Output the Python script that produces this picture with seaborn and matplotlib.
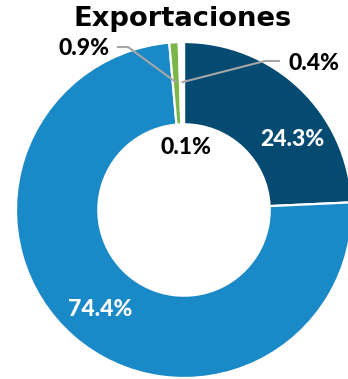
import numpy as np
import matplotlib
matplotlib.use("Agg")
import matplotlib.pyplot as plt
import seaborn as sns

sns.set_theme(style="white")
plt.rcParams['font.family'] = ['DejaVu Sans']

# ---- data ----
title = "Exportaciones"
categories = ["A", "B", "C", "D", "E"]
values = [24.3, 74.4, 0.9, 0.4, 0.1]
labels = ["24.3%", "74.4%", "0.9%", "0.4%", "0.1%"]
colors = ["#044a71", "#1a89c7", "#7ab648", "#ffffff", "#ffffff"]

W, H, DPI = 348, 379, 100
fig = plt.figure(figsize=(W / DPI, H / DPI), dpi=DPI)
fig.patch.set_facecolor("white")
ax = fig.add_axes([0, 0, 1, 1])

cx, cy, R = 184, 210, 168  # pixel layout of donut
wedges, _ = ax.pie(values, colors=colors, startangle=90, counterclock=False,
                   radius=1.0, wedgeprops=dict(width=0.49, edgecolor="white", linewidth=1.6))
ax.set_xlim(-cx / R, (W - cx) / R)
ax.set_ylim(-(H - cy) / R, cy / R)
ax.set_aspect("equal", adjustable="box")
ax.axis("off")

def mid_point(w, r=0.76):
    a = np.deg2rad((w.theta1 + w.theta2) / 2)
    return r * np.cos(a), r * np.sin(a)

lab_font = dict(family=["Lato", "DejaVu Sans"], fontweight="black", fontsize=16.5)
# in-slice labels
ax.text(0.643, 0.417, labels[0], color="white", ha="center", va="center", **lab_font)
ax.text(-0.50, -0.595, labels[1], color="white", ha="center", va="center", **lab_font)
ax.text(0.012, 0.375, labels[4], color="black", ha="center", va="center", **lab_font)

# outside labels with leader lines
lc = "#a6a6a6"
px, py = mid_point(wedges[2])
ax.plot([px, -0.333, -0.399], [py, 0.970, 0.970], color=lc, lw=1.5, solid_capstyle="butt")
ax.text(-0.595, 0.964, labels[2], color="black", ha="center", va="center", **lab_font)

px, py = mid_point(wedges[3])
ax.plot([px, 0.482, 0.571], [py, 0.887, 0.887], color=lc, lw=1.5, solid_capstyle="butt")
ax.text(0.774, 0.875, labels[3], color="black", ha="center", va="center", **lab_font)

fig.text(183 / W, 1 - 19 / H, title, ha="center", va="center",
         fontsize=19.7, fontweight="bold", color="black", family=["DejaVu Sans"])

fig.savefig("out.png", dpi=DPI, facecolor="white")
